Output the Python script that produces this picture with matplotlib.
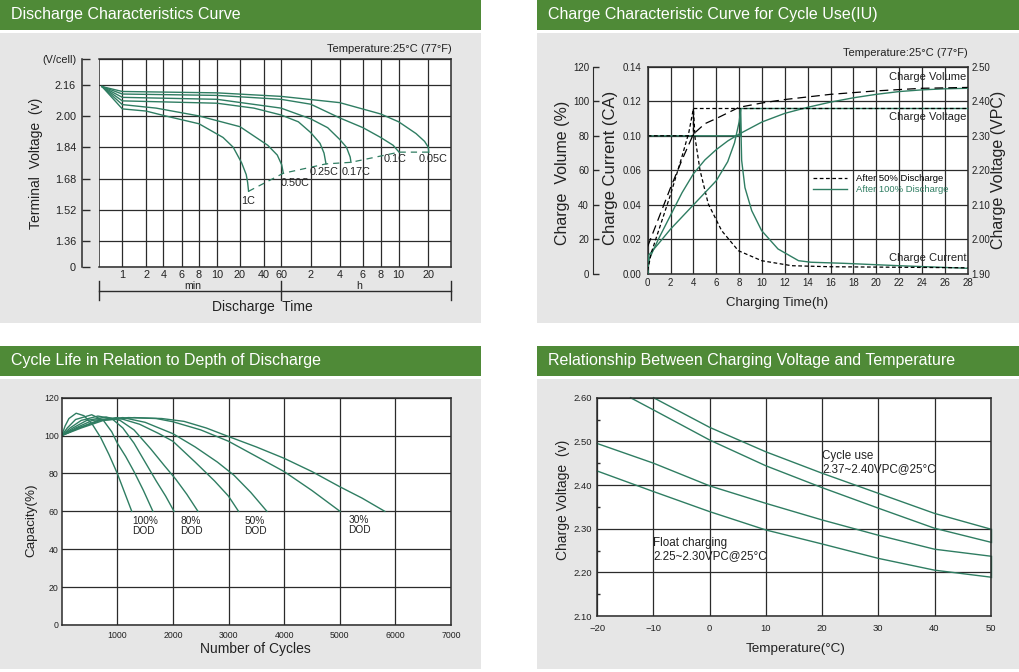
import numpy as np
import matplotlib
matplotlib.use("Agg")
import matplotlib.pyplot as plt
from matplotlib.patches import Rectangle
from matplotlib.lines import Line2D

plt.rcParams['font.family'] = ['Liberation Sans', 'DejaVu Sans']

# ---------------- data ----------------
# Discharge characteristics: time (min) / terminal voltage (V/cell)
t_1c = [0.3, 1, 2, 4.2, 8, 12, 16.3, 21, 24, 25, 25.7]
v_1c = [2.15, 2.036, 2.025, 2.00, 1.96, 1.89, 1.84, 1.76, 1.70, 1.66, 1.615]
t_05c = [0.3, 1, 3, 8, 20, 44, 55, 61, 63.3]
v_05c = [2.15, 2.058, 2.04, 2.00, 1.945, 1.85, 1.80, 1.75, 1.707]
t_025c = [0.3, 1, 10, 30, 60, 90, 120, 150, 165, 173]
v_025c = [2.15, 2.077, 2.065, 2.04, 2.005, 1.97, 1.915, 1.86, 1.81, 1.755]
t_017c = [0.3, 1, 10, 60, 120, 180, 240, 270, 288, 292]
v_017c = [2.15, 2.095, 2.085, 2.04, 1.985, 1.94, 1.88, 1.84, 1.79, 1.763]
t_01c = [0.3, 1, 10, 60, 120, 240, 360, 480, 560, 605]
v_01c = [2.15, 2.112, 2.105, 2.085, 2.06, 1.99, 1.94, 1.89, 1.85, 1.815]
t_005c = [0.3, 1, 10, 60, 240, 480, 600, 900, 1100, 1200, 1210]
v_005c = [2.15, 2.125, 2.118, 2.10, 2.068, 2.01, 1.97, 1.91, 1.87, 1.84, 1.815]
rate_names = ['1C', '0.50C', '0.25C', '0.17C', '0.1C', '0.05C']
rate_lab_t = [25.6, 83, 165, 319, 577, 1304]
rate_lab_v = [1.567, 1.658, 1.714, 1.714, 1.780, 1.780]

# printed (non-uniform) time scale of the discharge chart
t_knots = [0.25, 1, 2, 4, 6, 8, 10, 20, 40, 60, 120, 240, 360, 480, 600, 1200, 1800]
grid_px = [99, 122.3, 146, 163.3, 181.7, 199, 217, 240, 263.7, 281, 310.7,
           339.7, 363, 380.7, 398.7, 428.3, 451]
t_ticks = [1, 2, 4, 6, 8, 10, 20, 40, 60, 120, 240, 360, 480, 600, 1200]
t_ticklab = ['1', '2', '4', '6', '8', '10', '20', '40', '60',
             '2', '4', '6', '8', '10', '20']
v_ticks = [1.228, 1.36, 1.52, 1.68, 1.84, 2.00, 2.16, 2.291]
v_ticklab = ['0', '1.36', '1.52', '1.68', '1.84', '2.00', '2.16', '(V/cell)']

# Charge characteristics: time (h)
t50_vol = [0, 1, 2, 3, 4, 5, 6, 8, 10, 12, 14, 16, 20, 24, 28]
vol50 = [16, 33, 50, 66, 81, 87, 90, 96.5, 99, 101, 102.5, 104, 106, 107.5, 108]
t100_vol = [0, 0.1, 0.5, 1, 2, 3, 4, 5, 6, 7, 8, 10, 12, 14, 16, 18, 20, 22, 24, 26, 28]
vol100 = [0, 8, 14, 21, 34, 47, 58, 66, 72, 77, 81, 88, 93, 96.5, 99.5, 102, 104,
          105.6, 106.6, 107.2, 107.5]
t50_v = [0, 0.3, 1, 2, 3, 3.6, 4.0, 28]
volt50 = [1.91, 1.96, 2.03, 2.13, 2.24, 2.31, 2.379, 2.379]
t100_v = [0, 0.1, 1, 2, 3, 4, 5, 6, 7, 7.6, 8.0, 8.15, 28]
volt100 = [1.90, 1.955, 1.99, 2.03, 2.065, 2.10, 2.135, 2.17, 2.225, 2.28, 2.34, 2.379, 2.379]
t50_c = [0, 4.0, 4.0, 4.14, 4.58, 5.3, 6.47, 7.93, 9.97, 12.6, 16, 20, 24, 28]
cur50 = [0.10, 0.10, 0.1156, 0.098, 0.060, 0.0406, 0.0251, 0.0135, 0.0077, 0.0048,
         0.0042, 0.0040, 0.0038, 0.0036]
t100_c = [0, 8.12, 8.12, 8.22, 8.51, 9.1, 9.97, 11.4, 13.2, 14.3, 17.1, 22, 28]
cur100 = [0.10, 0.10, 0.1156, 0.0716, 0.050, 0.0367, 0.0251, 0.0145, 0.0077, 0.0068,
          0.0062, 0.0048, 0.0033]
cur_ticks = [0, 0.02, 0.04, 0.06, 0.10, 0.12, 0.14]   # as printed (no 0.08)
cur_ticklab = ['0.00', '0.02', '0.04', '0.06', '0.10', '0.12', '0.14']

# Cycle life: cycles / capacity (%)
cyc_a = [0, 60, 130, 260, 400, 550, 700, 850, 1000, 1130, 1260]
cap_a = [100, 105, 109, 111.8, 110.5, 106, 99, 90, 80, 70, 60]
cyc_b = [0, 100, 250, 540, 750, 900, 1000, 1150, 1300, 1470, 1640]
cap_b = [100, 104, 108.5, 111, 108, 102, 96, 89, 81, 71, 60]
cyc_c = [0, 150, 350, 650, 900, 1100, 1300, 1500, 1700, 1870, 2020]
cap_c = [100, 104, 108, 110.3, 109, 104, 96, 86, 76, 68, 60]
cyc_d = [0, 200, 450, 800, 1050, 1300, 1600, 1850, 2050, 2250, 2450]
cap_d = [100, 104, 108, 109.8, 108, 103, 93, 84, 77, 69, 60]
cyc_e = [0, 250, 550, 1000, 1400, 1750, 2000, 2400, 2750, 3000, 3180]
cap_e = [100, 104, 108, 109.5, 106, 101, 97, 86, 76, 68, 60]
cyc_f = [0, 300, 650, 1100, 1500, 2000, 2400, 2800, 3100, 3400, 3690]
cap_f = [100, 104, 108, 109.5, 107, 101, 94, 86, 79, 70, 60]
cyc_g = [0, 300, 700, 1200, 1700, 2000, 2500, 3000, 3500, 4000, 4500, 5005]
cap_g = [100, 104, 108, 109.5, 109, 107.3, 103, 97, 89, 81, 71, 60]
cyc_h = [0, 350, 750, 1300, 1800, 2200, 2600, 3000, 3500, 4000, 4500, 5000, 5400, 5810]
cap_h = [100, 104, 108, 109.5, 109, 107.5, 104, 99.5, 94, 88, 81, 73, 67, 60]
dod_labels = ['100%\nDOD', '80%\nDOD', '50%\nDOD', '30%\nDOD']
dod_lab_x = [1275, 2130, 3280, 5150]
dod_lab_y = [57.5, 57.5, 57.5, 58]

# Charging voltage vs temperature
temp_c1 = [-10, 0, 10, 20, 30, 40, 50]
volt_c1 = [2.60, 2.532, 2.476, 2.427, 2.381, 2.335, 2.299]
temp_c2 = [-14.1, -10, 0, 10, 20, 30, 40, 50]
volt_c2 = [2.60, 2.572, 2.503, 2.444, 2.394, 2.347, 2.301, 2.269]
temp_f1 = [-20, -10, 0, 10, 20, 30, 40, 50]
volt_f1 = [2.495, 2.450, 2.398, 2.358, 2.320, 2.285, 2.253, 2.237]
temp_f2 = [-20, -10, 0, 10, 20, 30, 40, 50]
volt_f2 = [2.432, 2.385, 2.339, 2.297, 2.265, 2.232, 2.205, 2.189]

# ---------------- figure ----------------
W, H = 1019, 672
fig = plt.figure(figsize=(W / 100, H / 100), dpi=100)
fig.patch.set_facecolor('white')

HEAD = '#4f8a37'
BG = '#e6e6e6'
GRID = '#2b2b2b'
GREEN = '#2f7d62'
TXT = '#222222'


def box(l, t, r, b):
    return [l / W, 1 - b / H, (r - l) / W, (b - t) / H]


def rect(l, t, r, b, color):
    fig.add_artist(Rectangle((l / W, 1 - b / H), (r - l) / W, (b - t) / H,
                             transform=fig.transFigure, facecolor=color,
                             edgecolor='none', zorder=-10))


def ftext(x, y, s, **kw):
    kw.setdefault('color', TXT)
    fig.text(x / W, 1 - y / H, s, **kw)


# header bars + grey panels
panels = [(0, 481, 0), (537, 1019, 0), (0, 481, 346), (537, 1019, 346)]
titles = ['Discharge Characteristics Curve', 'Charge Characteristic Curve for Cycle Use(IU)',
          'Cycle Life in Relation to Depth of Discharge',
          'Relationship Between Charging Voltage and Temperature']
for (l, r, t), title in zip(panels, titles):
    rect(l, t, r, t + 30, HEAD)
    rect(l, t + 33, r, t + 323, BG)
    ftext(l + 11, t + 15, title, color='white', fontsize=11.5, va='center')


def style(ax):
    ax.set_facecolor('white')
    for s in ax.spines.values():
        s.set_color(GRID)
        s.set_linewidth(1.1)
    ax.grid(True, color=GRID, lw=0.9)
    ax.set_axisbelow(True)


# ---------- 1. discharge ----------
ax1 = fig.add_axes(box(99, 59, 451, 267))
style(ax1)
log_knots = np.log10(t_knots)


def t_fwd(t):
    return np.interp(np.log10(np.clip(t, 1e-3, None)), log_knots, grid_px)


def t_inv(p):
    return 10 ** np.interp(p, grid_px, log_knots)


ax1.set_xscale('function', functions=(t_fwd, t_inv))
curves = [(t_1c, v_1c), (t_05c, v_05c), (t_025c, v_025c),
          (t_017c, v_017c), (t_01c, v_01c), (t_005c, v_005c)]
for tt, vv in curves:
    ax1.plot(tt, vv, color=GREEN, lw=1.0)
ax1.plot([c[0][-1] for c in curves], [c[1][-1] for c in curves],
         color=GREEN, lw=0.9, ls=(0, (5, 4)))
for name, xt, yt in zip(rate_names, rate_lab_t, rate_lab_v):
    ax1.text(xt, yt, name, fontsize=7.8, ha='center', va='center', color=TXT)
ax1.set_xlim(t_knots[0], t_knots[-1])
ax1.set_ylim(v_ticks[0], v_ticks[-1])
ax1.set_xticks(t_ticks, labels=t_ticklab)
ax1.set_yticks(v_ticks, labels=v_ticklab)
ax1.axvline(t_knots[0], color=GRID, lw=1.1)
ax1.spines['left'].set_position(('outward', 12.2))
ax1.tick_params(axis='y', direction='in', length=5.8, width=1, pad=4.3,
                labelsize=7.8, labelcolor=TXT, color=GRID)
ax1.tick_params(axis='x', length=0, pad=2.5, labelsize=7.8, labelcolor=TXT)
tr = ax1.get_xaxis_transform()
ax1.plot([t_knots[0], t_knots[-1]], [-0.115, -0.115], transform=tr,
         clip_on=False, color=GRID, lw=1)
for xt in [t_knots[0], 60, t_knots[-1]]:
    ax1.plot([xt, xt], [-0.067, -0.159], transform=tr, clip_on=False, color=GRID, lw=1)
ax1.text(0.267, -0.092, 'min', transform=ax1.transAxes, fontsize=7.6,
         ha='center', va='center', color=TXT)
ax1.text(0.739, -0.092, 'h', transform=ax1.transAxes, fontsize=7.6,
         ha='center', va='center', color=TXT)
ftext(262, 307, 'Discharge  Time', fontsize=10, ha='center', va='center')
ftext(36, 163, 'Terminal  Voltage  (v)', fontsize=10, rotation=90,
      ha='center', va='center')
ftext(452, 49, 'Temperature:25°C (77°F)', fontsize=8, ha='right', va='center')

# ---------- 2. charge characteristic ----------
ax2 = fig.add_axes(box(647.7, 66.7, 967.7, 274))
style(ax2)
cur_pos = np.arange(len(cur_ticks))
ax2.set_yscale('function', functions=(lambda c: np.interp(c, cur_ticks, cur_pos),
                                      lambda p: np.interp(p, cur_pos, cur_ticks)))
ax2.plot(t100_c, cur100, color=GREEN, lw=1.0)
ax2.plot(t50_c, cur50, color='k', lw=0.9, ls=(0, (3, 2)))
ax2.set_ylim(cur_ticks[0], cur_ticks[-1])
ax2.set_xlim(0, 28)
ax2.set_xticks(range(0, 29, 2))
ax2.set_yticks(cur_ticks, labels=cur_ticklab)
ax2.tick_params(axis='y', length=0, pad=4.8, labelsize=7, labelcolor=TXT)
ax2.tick_params(axis='x', length=0, pad=3, labelsize=7, labelcolor=TXT)

axv = ax2.twinx()
axv.plot(t100_vol, vol100, color=GREEN, lw=1.0)
axv.plot(t50_vol, vol50, color='k', lw=0.9, ls=(0, (7, 4)))
axv.set_ylim(0, 120)
axv.set_yticks(range(0, 121, 20))
axv.yaxis.tick_left()
for s in ['right', 'top', 'bottom']:
    axv.spines[s].set_visible(False)
axv.spines['left'].set_visible(True)
axv.spines['left'].set_position(('outward', 39.6))
axv.spines['left'].set_color(GRID)
axv.tick_params(axis='y', direction='in', length=4.3, width=1, pad=2.7,
                labelsize=7, labelcolor=TXT, color=GRID)

axr = ax2.twinx()
axr.plot(t100_v, volt100, color=GREEN, lw=1.0)
axr.plot(t50_v, volt50, color='k', lw=0.9, ls=(0, (3, 2)))
axr.set_ylim(1.9, 2.5)
axr.set_yticks(np.arange(1.9, 2.51, 0.1), labels=['%.2f' % v for v in np.arange(1.9, 2.51, 0.1)])
for s in ['left', 'top', 'bottom', 'right']:
    axr.spines[s].set_visible(False)
axr.tick_params(axis='y', length=0, pad=2.9, labelsize=7, labelcolor=TXT)

for txt, yy in [('Charge Volume', 0.950), ('Charge Voltage', 0.759), ('Charge Current', 0.076)]:
    ax2.text(0.997, yy, txt, transform=ax2.transAxes, ha='right', va='center',
             fontsize=8, color=TXT, zorder=5)
handles = [Line2D([], [], color='k', lw=0.9, ls=(0, (3, 2))),
           Line2D([], [], color=GREEN, lw=1.0)]
ax2.legend(handles, ['After 50% Discharge', 'After 100% Discharge'],
           loc='upper left', bbox_to_anchor=(0.516, 0.480), frameon=False,
           fontsize=6.8, labelcolor=['k', GREEN], handlelength=3.6,
           handletextpad=1.0, labelspacing=0.2, borderpad=0, borderaxespad=0)
ftext(968, 53, 'Temperature:25°C (77°F)', fontsize=8, ha='right', va='center')
ftext(563, 173, 'Charge  Volume (%)', fontsize=11.5, rotation=90, ha='center', va='center')
ftext(611, 168, 'Charge Current (CA)', fontsize=12, rotation=90, ha='center', va='center')
ftext(998, 170, 'Charge Voltage (VPC)', fontsize=11.5, rotation=90, ha='center', va='center')
ftext(776.7, 303.3, 'Charging Time(h)', fontsize=9.5, ha='center', va='center')

# ---------- 3. cycle life ----------
ax3 = fig.add_axes(box(61.7, 397.7, 451, 625))
style(ax3)
for cx, cy in [(cyc_a, cap_a), (cyc_b, cap_b), (cyc_c, cap_c), (cyc_d, cap_d),
               (cyc_e, cap_e), (cyc_f, cap_f), (cyc_g, cap_g), (cyc_h, cap_h)]:
    ax3.plot(cx, cy, color=GREEN, lw=1.0)
for s, xx, yy in zip(dod_labels, dod_lab_x, dod_lab_y):
    ax3.text(xx, yy, s, fontsize=7.3, ha='left', va='top', color=TXT, linespacing=1.0)
ax3.set_xlim(0, 7000)
ax3.set_ylim(0, 120)
ax3.set_xticks(range(1000, 7001, 1000))
ax3.set_yticks(range(0, 121, 20))
ax3.tick_params(axis='x', length=0, pad=4, labelsize=6.3, labelcolor=TXT)
ax3.tick_params(axis='y', length=0, pad=2.2, labelsize=6.3, labelcolor=TXT)
ftext(31.7, 520, 'Capacity(%)', fontsize=9.7, rotation=90, ha='center', va='center')
ftext(255, 649.3, 'Number of Cycles', fontsize=10, ha='center', va='center')

# ---------- 4. charging voltage vs temperature ----------
ax4 = fig.add_axes(box(597.3, 397.7, 990.7, 616))
style(ax4)
for tx, vy in [(temp_c1, volt_c1), (temp_c2, volt_c2), (temp_f1, volt_f1), (temp_f2, volt_f2)]:
    ax4.plot(tx, vy, color=GREEN, lw=1.0, clip_on=False)
ax4.plot([temp_c1[-1]] * 2, [volt_c1[-1], volt_c2[-1]], color=GREEN, lw=1.0, clip_on=False)
ax4.plot([temp_f1[-1]] * 2, [volt_f1[-1], volt_f2[-1]], color=GREEN, lw=1.0, clip_on=False)
ax4.set_xlim(-20, 50)
ax4.set_ylim(2.10, 2.60)
ax4.set_xticks(range(-20, 51, 10))
yt4 = np.arange(2.10, 2.61, 0.10)
ax4.set_yticks(yt4, labels=['%.2f' % v for v in yt4])
ax4.set_yticks(np.arange(2.15, 2.6, 0.10), minor=True)
ax4.tick_params(axis='y', which='minor', direction='in', length=2.4, width=1, color=GRID)
ax4.tick_params(axis='x', length=0, pad=6, labelsize=6.8, labelcolor=TXT)
ax4.tick_params(axis='y', which='major', length=0, pad=4, labelsize=6.8, labelcolor=TXT)
ax4.text(20, 2.452, 'Cycle use\n2.37~2.40VPC@25°C', fontsize=8.4, ha='left', va='center',
         color=TXT, linespacing=1.1)
ax4.text(-10, 2.253, 'Float charging\n2.25~2.30VPC@25°C', fontsize=8.4, ha='left', va='center',
         color=TXT, linespacing=1.1)
ftext(563.3, 500, 'Charge Voltage  (v)', fontsize=10, rotation=90, ha='center', va='center')
ftext(796, 649.3, 'Temperature(°C)', fontsize=9.7, ha='center', va='center')

fig.savefig('out.png', dpi=100)
